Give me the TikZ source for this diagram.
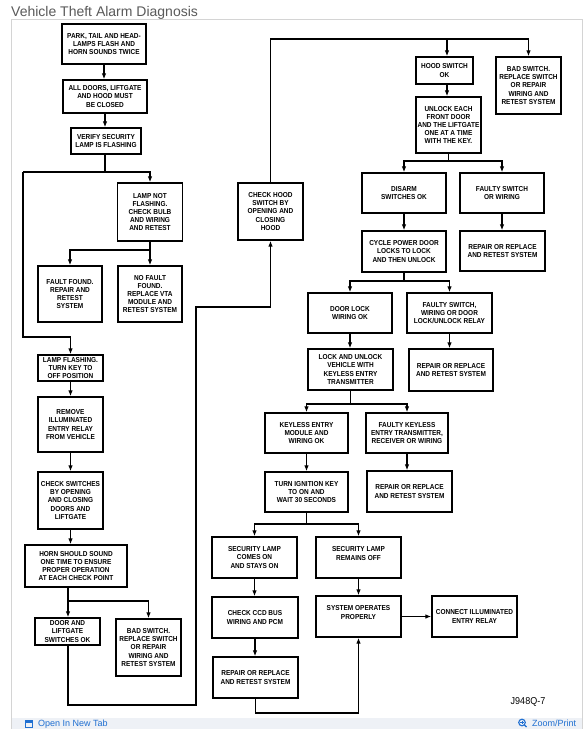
\documentclass[tikz,border=0pt]{standalone}
\usepackage{fontspec}
\setmainfont{Liberation Sans}
\newfontfamily\boxfont[FakeStretch=0.9]{Liberation Sans}
\usetikzlibrary{arrows.meta}
\definecolor{panelgray}{HTML}{D4D4D4}
\definecolor{stripcol}{HTML}{EEF1F6}
\definecolor{linkblue}{HTML}{1F6FD1}
\definecolor{titlegray}{HTML}{5A5A5A}
\begin{document}
\begin{tikzpicture}[x=1pt,y=-1pt,
  bx/.style={draw, line width=1.4pt, align=center, inner sep=1pt,
    font=\boxfont\bfseries\fontsize{7.2}{8.2}\selectfont},
  ln/.style={line width=1.3pt},
  ar/.style={line width=1.3pt,-{Latex[length=6pt,width=4.6pt]}}]
\useasboundingbox (0,0) rectangle (587,729);
\fill[white] (0,0) rectangle (587,729);
% page frame
\node[anchor=base west, inner sep=0pt, text=titlegray, font=\fontsize{14}{16}\selectfont] (title) at (11,16.5) {Vehicle Theft Alarm Diagnosis};
\fill[stripcol] (12,718) rectangle (582,740);
\draw[panelgray, line width=1pt] (11.5,740) -- (11.5,19.5) -- (582.5,19.5) -- (582.5,740);
\node[anchor=base west, inner sep=0pt, text=linkblue, font=\fontsize{9}{10}\selectfont] (opentab) at (38,726.5) {Open In New Tab};
\node[anchor=base west, inner sep=0pt, text=linkblue, font=\fontsize{9}{10}\selectfont] (zoomprint) at (532,726.5) {Zoom/Print};
\draw[linkblue, line width=1pt] (25,720.5) rectangle (32,727.5);
\fill[linkblue] (24.5,720) rectangle (32.5,722.5);
\draw[linkblue, line width=1.1pt] (522,722.5) circle (3.3);
\draw[linkblue, line width=1.1pt] (524.3,724.8) -- (526.5,727);
\draw[linkblue, line width=0.7pt] (520.3,722.5) -- (523.7,722.5) (522,720.8) -- (522,724.2);

% boxes
\node[bx, minimum width=84pt, minimum height=40pt] (b1) at (104,44) {PARK, TAIL AND HEAD-\\LAMPS FLASH AND\\HORN SOUNDS TWICE};
\node[bx, minimum width=84pt, minimum height=33pt] (b2) at (105,96.5) {ALL DOORS, LIFTGATE\\AND HOOD MUST\\BE CLOSED};
\node[bx, minimum width=70pt, minimum height=26pt] (b3) at (106,141) {VERIFY SECURITY\\LAMP IS FLASHING};
\node[bx, minimum width=65pt, minimum height=58pt] (b4) at (150,212) {LAMP NOT\\FLASHING.\\CHECK BULB\\AND WIRING\\AND RETEST};
\node[bx, minimum width=64pt, minimum height=56pt] (b5) at (70,294) {FAULT FOUND.\\REPAIR AND\\RETEST\\SYSTEM};
\node[bx, minimum width=64pt, minimum height=56pt] (b6) at (150,294) {NO FAULT\\FOUND.\\REPLACE VTA\\MODULE AND\\RETEST SYSTEM};
\node[bx, minimum width=65pt, minimum height=26pt] (b7) at (70.5,368) {LAMP FLASHING.\\TURN KEY TO\\OFF POSITION};
\node[bx, minimum width=65pt, minimum height=55pt] (b8) at (70.5,424.5) {REMOVE\\ILLUMINATED\\ENTRY RELAY\\FROM VEHICLE};
\node[bx, minimum width=65pt, minimum height=57pt] (b9) at (70.5,500.5) {CHECK SWITCHES\\BY OPENING\\AND CLOSING\\DOORS AND\\LIFTGATE};
\node[bx, minimum width=102pt, minimum height=42pt] (b10) at (76,566) {HORN SHOULD SOUND\\ONE TIME TO ENSURE\\PROPER OPERATION\\AT EACH CHECK POINT};
\node[bx, minimum width=65pt, minimum height=27pt] (b11) at (67.5,631.5) {DOOR AND\\LIFTGATE\\SWITCHES OK};
\node[bx, minimum width=65pt, minimum height=57pt] (b12) at (148.5,647.5) {BAD SWITCH.\\REPLACE SWITCH\\OR REPAIR\\WIRING AND\\RETEST SYSTEM};
\node[bx, minimum width=65pt, minimum height=57pt] (b13) at (270.5,211.5) {CHECK HOOD\\SWITCH BY\\OPENING AND\\CLOSING\\HOOD};
\node[bx, minimum width=57pt, minimum height=27pt] (b14) at (444.5,70.5) {HOOD SWITCH\\OK};
\node[bx, minimum width=65pt, minimum height=57pt] (b15) at (528.5,85.5) {BAD SWITCH.\\REPLACE SWITCH\\OR REPAIR\\WIRING AND\\RETEST SYSTEM};
\node[bx, minimum width=65pt, minimum height=56pt] (b16) at (448.5,125) {UNLOCK EACH\\FRONT DOOR\\AND THE LIFTGATE\\ONE AT A TIME\\WITH THE KEY.};
\node[bx, minimum width=84pt, minimum height=40pt] (b17) at (404,193) {DISARM\\SWITCHES OK};
\node[bx, minimum width=84pt, minimum height=40pt] (b18) at (502,193) {FAULTY SWITCH\\OR WIRING};
\node[bx, minimum width=84pt, minimum height=41pt] (b19) at (404,251.5) {CYCLE POWER DOOR\\LOCKS TO LOCK\\AND THEN UNLOCK};
\node[bx, minimum width=85pt, minimum height=40pt] (b20) at (502.5,251) {REPAIR OR REPLACE\\AND RETEST SYSTEM};
\node[bx, minimum width=84pt, minimum height=40pt] (b21) at (350,313) {DOOR LOCK\\WIRING OK};
\node[bx, minimum width=85pt, minimum height=40pt] (b22) at (449.5,313) {FAULTY SWITCH,\\WIRING OR DOOR\\LOCK/UNLOCK RELAY};
\node[bx, minimum width=85pt, minimum height=41pt] (b23) at (350.5,369.5) {LOCK AND UNLOCK\\VEHICLE WITH\\KEYLESS ENTRY\\TRANSMITTER};
\node[bx, minimum width=84pt, minimum height=42pt] (b24) at (451,370) {REPAIR OR REPLACE\\AND RETEST SYSTEM};
\node[bx, minimum width=83pt, minimum height=40pt] (b25) at (306.5,433) {KEYLESS ENTRY\\MODULE AND\\WIRING OK};
\node[bx, minimum width=82pt, minimum height=40pt] (b26) at (407,433) {FAULTY KEYLESS\\ENTRY TRANSMITTER,\\RECEIVER OR WIRING};
\node[bx, minimum width=83pt, minimum height=40pt] (b27) at (306.5,492) {TURN IGNITION KEY\\TO ON AND\\WAIT 30 SECONDS};
\node[bx, minimum width=85pt, minimum height=41pt] (b28) at (409.5,491.5) {REPAIR OR REPLACE\\AND RETEST SYSTEM};
\node[bx, minimum width=85pt, minimum height=41pt] (b29) at (254.5,557.5) {SECURITY LAMP\\COMES ON\\AND STAYS ON};
\node[bx, minimum width=85pt, minimum height=41pt] (b30) at (358.5,557.5) {SECURITY LAMP\\REMAINS OFF\\~};
\node[bx, minimum width=86pt, minimum height=41pt] (b31) at (255,617.5) {CHECK CCD BUS\\WIRING AND PCM};
\node[bx, minimum width=85pt, minimum height=41pt] (b32) at (358.5,616.5) {SYSTEM OPERATES\\PROPERLY\\~};
\node[bx, minimum width=85pt, minimum height=41pt] (b33) at (474.5,616.5) {CONNECT ILLUMINATED\\ENTRY RELAY};
\node[bx, minimum width=85pt, minimum height=41pt] (b34) at (255.5,677.5) {REPAIR OR REPLACE\\AND RETEST SYSTEM};
\node[inner sep=0pt, font=\boxfont\fontsize{10}{11}\selectfont] (code) at (528,702) {J948Q-7};

% junction coordinates
\coordinate (jA) at (23,172);
\coordinate (jB) at (23,337);
\coordinate (jC) at (70,250);
\coordinate (jD) at (68,601);
\coordinate (jE) at (68,705);
\coordinate (jF) at (196,705);
\coordinate (jG) at (196,307);
\coordinate (jH) at (270.5,39);
\coordinate (jH2) at (447,39);
\coordinate (jI) at (528.5,39);
\coordinate (jJ) at (448.5,161);
\coordinate (jK) at (404,281);
\coordinate (jL) at (350.5,404);
\coordinate (jM) at (306.5,524);
\coordinate (jN) at (255.5,713);
\coordinate (jO) at (358.5,713);

% connectors
\draw[ar] (b1) -- (b1.south |- b2.north);
\draw[ar] (b2) -- (b2.south |- b3.north);
\draw[ln] (b3.south -| b2.south) -- (b2.south |- jA);
\draw[ar] (jA) -- (jA -| b4.north) -- (b4.north);
\draw[ar] (jA) -- (jB) -- (jB -| b7.north) -- (b7.north);
\draw[ar] (b4) -- (b6);
\draw[ar] (b4.south |- jC) -- (jC) -- (b5.north);
\draw[ar] (b7) -- (b8);
\draw[ar] (b8) -- (b9);
\draw[ar] (b9.south) -- (b9.south |- b10.north);
\draw[ln] (jD |- b10.south) -- (jD);
\draw[ar] (jD) -- (jD |- b11.north);
\draw[ar] (jD) -- (jD -| b12.north) -- (b12.north);
\draw[ar] (jD |- b11.south) -- (jE) -- (jF) -- (jG) -- (jG -| b13.south) -- (b13.south);
\draw[ar] (b13.north) -- (jH) -- (jI) -- (b15.north);
\draw[ar] (jH2) -- (jH2 |- b14.north);
\draw[ar] (jH2 |- b14.south) -- (jH2 |- b16.north);
\draw[ln] (b16.south) -- (jJ);
\draw[ar] (jJ) -- (jJ -| b17.north) -- (b17.north);
\draw[ar] (jJ) -- (jJ -| b18.north) -- (b18.north);
\draw[ar] (b17) -- (b19);
\draw[ar] (b18.south) -- (b18.south |- b20.north);
\draw[ln] (b19.south) -- (jK);
\draw[ar] (jK) -- (jK -| b21.north) -- (b21.north);
\draw[ar] (jK) -- (jK -| b22.north) -- (b22.north);
\draw[ar] (b21.south) -- (b21.south |- b23.north);
\draw[ar] (b22.south) -- (b22.south |- b24.north);
\draw[ln] (b23.south) -- (jL);
\draw[ar] (jL) -- (jL -| b25.north) -- (b25.north);
\draw[ar] (jL) -- (jL -| b26.north) -- (b26.north);
\draw[ar] (b25) -- (b27);
\draw[ar] (b26.south) -- (b26.south |- b28.north);
\draw[ln] (b27.south) -- (jM);
\draw[ar] (jM) -- (jM -| b29.north) -- (b29.north);
\draw[ar] (jM) -- (jM -| b30.north) -- (b30.north);
\draw[ar] (b29.south) -- (b29.south |- b31.north);
\draw[ar] (b31.south) -- (b31.south |- b34.north);
\draw[ar] (b30) -- (b32);
\draw[ar] (b32.east) -- (b33.west);
\draw[ar] (b34.south) -- (jN) -- (jO) -- (b32.south);
\end{tikzpicture}
\end{document}
